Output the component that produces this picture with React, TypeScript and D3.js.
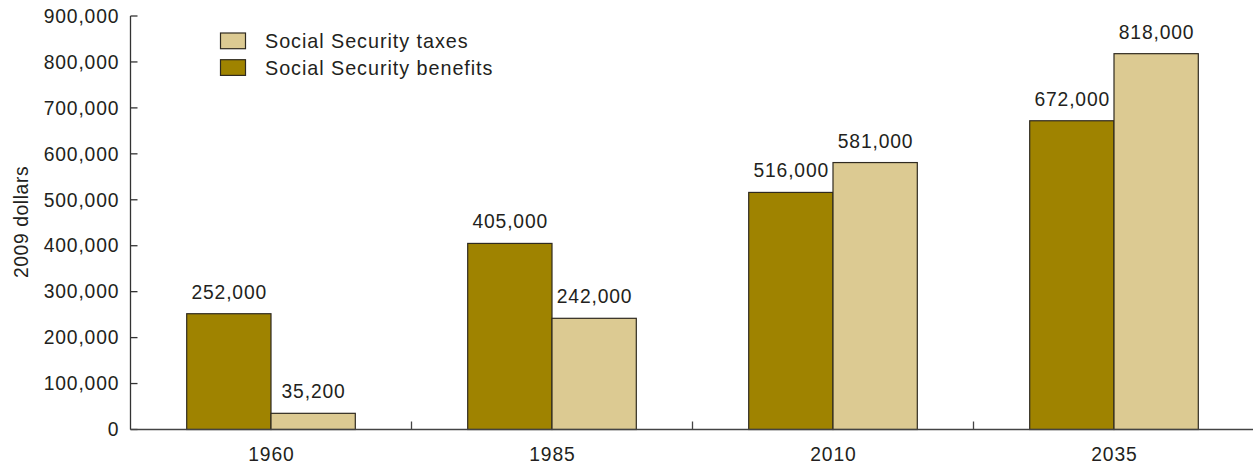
import React from "react";
import * as d3 from "d3";

const years = ["1960", "1985", "2010", "2035"];
const benefits = [252000, 405000, 516000, 672000];
const taxes = [35200, 242000, 581000, 818000];
const benefitLabels = ["252,000", "405,000", "516,000", "672,000"];
const taxLabels = ["35,200", "242,000", "581,000", "818,000"];
const yTicks = [0, 100000, 200000, 300000, 400000, 500000, 600000, 700000, 800000, 900000];

const W = 1253;
const H = 469;
const left = 130.5;
const right = 1254.5;
const top = 16;
const bottom = 429.5;
const font = "'Liberation Sans', Arial, Helvetica, sans-serif";
const benefitColor = "#9F8300";
const taxColor = "#DCCA92";
const stroke = "#2f2a20";
const textColor = "#231f20";
const fs = 19.3;
const ls = 0.85;

export default function App() {
  const x = d3.scaleBand<string>().domain(years).range([left, right]).padding(0);
  const y = d3.scaleLinear().domain([0, 900000]).range([bottom, top]);
  const step = x.step();
  const barW = step * 0.3;
  const fmt = d3.format(",");

  return (
    <svg width={W} height={H} style={{ position: "absolute", left: 0, top: 0 }} fontFamily={font}>
      <rect x={0} y={0} width={W} height={H} fill="#fff" />
      {/* bars */}
      {years.map((yr, i) => {
        const x0 = (x(yr) as number) + step * 0.2;
        return (
          <g key={yr}>
            <rect x={x0} y={y(benefits[i])} width={barW} height={bottom - y(benefits[i])} fill={benefitColor} stroke={stroke} strokeWidth={1.2} />
            <rect x={x0 + barW} y={y(taxes[i])} width={barW} height={bottom - y(taxes[i])} fill={taxColor} stroke={stroke} strokeWidth={1.2} />
            <text x={x0 + barW / 2 + ls / 2} y={y(benefits[i]) - 15} textAnchor="middle" fontSize={fs} letterSpacing={ls} fill={textColor}>{benefitLabels[i]}</text>
            <text x={x0 + barW * 1.5 + ls / 2} y={y(taxes[i]) - 15} textAnchor="middle" fontSize={fs} letterSpacing={ls} fill={textColor}>{taxLabels[i]}</text>
            <text x={(x(yr) as number) + step / 2 + ls / 2} y={bottom + 31} textAnchor="middle" fontSize={fs} letterSpacing={ls} fill={textColor}>{yr}</text>
          </g>
        );
      })}
      {/* y axis */}
      <line x1={left} x2={left} y1={top} y2={bottom} stroke="#333" strokeWidth={1.3} />
      {yTicks.map((t) => (
        <g key={t}>
          <line x1={left} x2={left + 7} y1={y(t)} y2={y(t)} stroke="#333" strokeWidth={1.3} />
          <text x={118.5 + ls} y={y(t)} dy="0.35em" textAnchor="end" fontSize={fs} letterSpacing={ls} fill={textColor}>{fmt(t)}</text>
        </g>
      ))}
      {/* x axis */}
      <line x1={left} x2={right} y1={bottom} y2={bottom} stroke="#444" strokeWidth={1.3} />
      {years.slice(1).map((yr) => (
        <line key={yr} x1={x(yr) as number} x2={x(yr) as number} y1={bottom} y2={bottom - 8} stroke="#444" strokeWidth={1.3} />
      ))}
      <text transform={`translate(28, ${221.5 + ls / 2}) rotate(-90)`} textAnchor="middle" fontSize={fs} letterSpacing={0.6} fill={textColor}>2009 dollars</text>
      {/* legend */}
      <rect x={220.5} y={33} width={25} height={15.7} fill={taxColor} stroke={stroke} strokeWidth={1.2} />
      <text x={265} y={48} fontSize={19.8} letterSpacing={0.95} fill={textColor}>Social Security taxes</text>
      <rect x={220.5} y={59.7} width={25} height={15.7} fill={benefitColor} stroke={stroke} strokeWidth={1.2} />
      <text x={265} y={74.7} fontSize={19.8} letterSpacing={0.95} fill={textColor}>Social Security benefits</text>
    </svg>
  );
}
